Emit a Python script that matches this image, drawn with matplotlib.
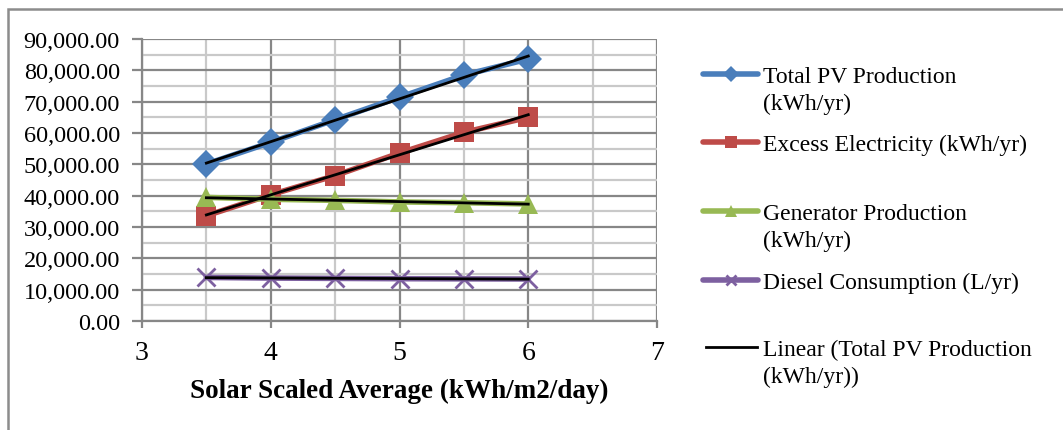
import numpy as np
import matplotlib
matplotlib.use("Agg")
import matplotlib.pyplot as plt
from matplotlib.lines import Line2D
from matplotlib.patches import Rectangle
from matplotlib.ticker import FuncFormatter, MultipleLocator

plt.rcParams['font.family'] = ['Liberation Serif', 'DejaVu Serif']

# solar scaled average (kWh/m2/day)
solar = [3.5, 4.0, 4.5, 5.0, 5.5, 6.0]
total_pv = [50100, 57000, 64250, 71400, 78500, 83600]
excess_elec = [33600, 40300, 46400, 53600, 60200, 65000]
generator = [39450, 38850, 38500, 38000, 37750, 37350]
diesel = [13900, 13700, 13600, 13500, 13450, 13400]

series = [
    (total_pv, "Total PV Production\n(kWh/yr)", "#4A7EBB", "D", 14),
    (excess_elec, "Excess Electricity (kWh/yr)", "#BE4B48", "s", 14),
    (generator, "Generator Production\n(kWh/yr)", "#98B954", "^", 15),
    (diesel, "Diesel Consumption (L/yr)", "#7D60A0", "x", 13),
]
trend_label = "Linear (Total PV Production\n(kWh/yr))"

W, H = 1063, 431
fig = plt.figure(figsize=(W / 100, H / 100), dpi=100)
ax = fig.add_axes([142 / W, 1 - 322 / H, (657 - 142) / W, (322 - 40) / H])

dark = "#878787"
light = "#C9C9C9"

# grid: light at the half steps, dark at the labelled steps
ax.xaxis.set_major_locator(MultipleLocator(1))
ax.xaxis.set_minor_locator(MultipleLocator(0.5))
ax.yaxis.set_major_locator(MultipleLocator(10000))
ax.yaxis.set_minor_locator(MultipleLocator(5000))
ax.grid(which="minor", color=light, lw=1.6, zorder=0)
ax.grid(which="major", color=dark, lw=1.6, zorder=0)
ax.set_axisbelow(True)

x = np.array(solar)
for vals, label, color, marker, ms in series:
    mew = 2 if marker == "x" else 0
    ax.plot(x, vals, color=color, lw=4, marker=marker, markersize=ms,
            markeredgewidth=mew, markeredgecolor=color, zorder=3, clip_on=False)

# linear trend line for every series
for vals, *_ in series:
    k, b = np.polyfit(x, vals, 1)
    ax.plot(x[[0, -1]], k * x[[0, -1]] + b, color="black", lw=2, zorder=4)

ax.set_xlim(3, 7)
ax.set_ylim(0, 90000)
ax.yaxis.set_major_formatter(FuncFormatter(lambda v, p: f"{v:,.2f}"))
ax.xaxis.set_major_formatter(FuncFormatter(lambda v, p: f"{v:.0f}"))

for side in ["top", "right"]:
    ax.spines[side].set_visible(False)
for side in ["left", "bottom"]:
    ax.spines[side].set_color(dark)
    ax.spines[side].set_linewidth(1.6)

ax.tick_params(axis="y", which="major", length=7, width=1.6, color=dark,
               labelsize=17.5, pad=9)
ax.tick_params(axis="x", which="major", length=5, width=1.6, color=dark,
               labelsize=20, pad=9)
ax.tick_params(which="minor", length=0)

ax.set_xlabel("Solar Scaled Average (kWh/m2/day)", fontsize=19.5,
              fontweight="bold", labelpad=9)

# legend on the right
legend_rows = [75, 143, 212, 281, 348]
for (vals, label, color, marker, ms), yp in zip(series, legend_rows):
    yf = 1 - yp / H
    mew = 2 if marker == "x" else 0
    fig.add_artist(Line2D([703 / W, 758 / W], [yf, yf], color=color, lw=4,
                          solid_capstyle="round"))
    fig.add_artist(Line2D([730.5 / W], [yf], color=color, marker=marker,
                          markersize=ms * 0.6, markeredgewidth=mew,
                          markeredgecolor=color, lw=0))
    fig.text(763 / W, yf + 8 / H, label, fontsize=17, va="top", ha="left",
             linespacing=1.38)
yf = 1 - legend_rows[-1] / H
fig.add_artist(Line2D([706 / W, 757 / W], [yf, yf], color="black", lw=2))
fig.text(763 / W, yf + 8 / H, trend_label, fontsize=17, va="top", ha="left",
         linespacing=1.38)

# chart frame
fig.add_artist(Rectangle((8 / W, -0.1), 1.2, 1 - 10 / H + 0.1,
                         transform=fig.transFigure, fill=False,
                         edgecolor="#8C8C8C", lw=1.8))

fig.savefig("out.png", dpi=100)
